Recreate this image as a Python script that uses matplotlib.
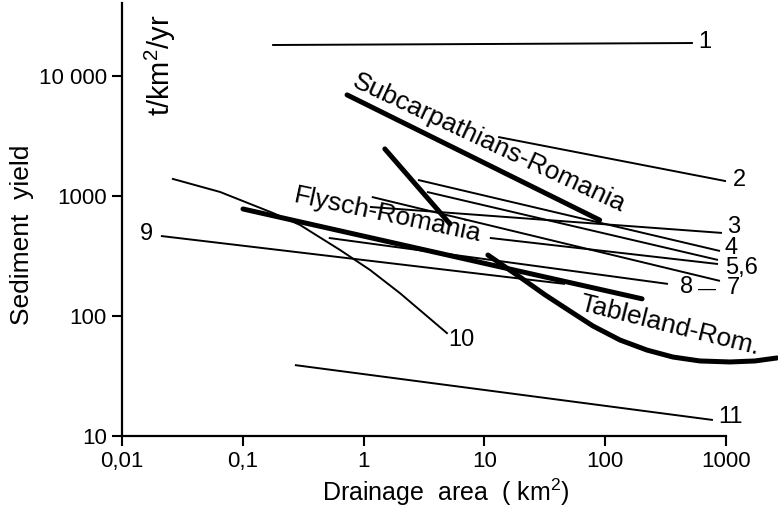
import numpy as np
import matplotlib
matplotlib.use("Agg")
import matplotlib.pyplot as plt

plt.rcParams['font.family'] = ['Liberation Sans', 'DejaVu Sans']
plt.rcParams['mathtext.default'] = 'regular'

# straight regression lines: (label, x start/end [km2], y start/end [t/km2/yr])
line_names = ['1', '2', '3', '4', '5', '6', '7', '8', '9', '11']
line_x = [[0.175, 533], [13, 1075], [1.13, 927], [2.82, 892], [3.35, 859],
          [11.1, 859], [1.17, 892], [0.515, 331], [0.021, 46.5], [0.27, 780]]
line_y = [[18100, 18800], [3100, 1310], [810, 492], [1360, 348], [1080, 293],
          [447, 271], [981, 196], [447, 185], [464, 185], [39, 13.6]]

# thick Romanian curves
subcarp_x = [0.73, 90]
subcarp_y = [6950, 630]
short_x = [1.50, 5.19]
short_y = [2465, 585]
flysch_x = [0.1004, 202]
flysch_y = [779, 139]
table_x = [10.7, 19.7, 31.8, 48.3, 79.3, 133, 222, 364, 609, 1080, 1738, 2640]
table_y = [322, 211, 150, 114, 82.5, 63, 52, 45.5, 42.2, 41.4, 42.2, 44.7]

# curve 10
c10_x = [0.0264, 0.0648, 0.178, 0.298, 0.638, 1.13, 2.0, 4.9]
c10_y = [1386, 1080, 721, 573, 355, 242, 155, 72]

xticks = [0.01, 0.1, 1, 10, 100, 1000]
xtick_labels = ['0,01', '0,1', '1', '10', '100', '1000']
yticks = [10, 100, 1000, 10000]
ytick_labels = ['10', '100', '1000', '10 000']

fig = plt.figure(figsize=(7.78, 5.12), dpi=100)
ax = fig.add_axes([0.1568, 0.1484, 0.7763, 0.8457])
ax.set_xscale('log')
ax.set_yscale('log')
ax.set_xlim(0.01, 1000)
ax.set_ylim(10, 40500)

thin = 1.4
thick = 3.6
for xs, ys in zip(line_x, line_y):
    ax.plot(xs, ys, color='black', lw=thin, solid_capstyle='butt')
ax.plot(c10_x, c10_y, color='black', lw=thin)
ax.plot(subcarp_x, subcarp_y, color='black', lw=thick, solid_capstyle='round')
ax.plot(short_x, short_y, color='black', lw=thick, solid_capstyle='round')
ax.plot(flysch_x, flysch_y, color='black', lw=thick, solid_capstyle='round')
ax.plot(table_x, table_y, color='black', lw=thick, solid_capstyle='round',
        clip_on=False)

fs = 19
nfs = 17
# number labels at line ends
offsets = {'1': (5, 1), '2': (3, 2), '3': (5, 6), '4': (5, 3), '7': (7, -7),
           '8': (12, -3), '11': (5, 3)}
for name, xs, ys in zip(line_names, line_x, line_y):
    if name in offsets:
        ax.annotate(name, (xs[1], ys[1]), xytext=offsets[name],
                    textcoords='offset pixels', ha='left', va='center',
                    fontsize=nfs, annotation_clip=False)
ax.annotate('5,6', (line_x[4][1], line_y[4][1]), xytext=(7, -8),
            textcoords='offset pixels', ha='left', va='center', fontsize=nfs,
            annotation_clip=False)
ax.annotate('—', (line_x[6][1], line_y[6][1]), xytext=(-22, -8),
            textcoords='offset pixels', ha='left', va='center', fontsize=13,
            annotation_clip=False)
ax.annotate('9', (line_x[8][0], line_y[8][0]), xytext=(-8, 2),
            textcoords='offset pixels', ha='right', va='center', fontsize=nfs)
ax.annotate('10', (c10_x[-1], c10_y[-1]), xytext=(1, -7),
            textcoords='offset pixels', ha='left', va='center', fontsize=nfs)

ax.text(10.9, 2765, 'Subcarpathians-Romania', rotation=-25, fontsize=fs,
        ha='center', va='center', rotation_mode='anchor')
ax.text(1.59, 690, 'Flysch-Romania', rotation=-12, fontsize=fs,
        ha='center', va='center', rotation_mode='anchor')
ax.text(345, 84, 'Tableland-Rom.', rotation=-14, fontsize=fs,
        ha='center', va='center', rotation_mode='anchor')

ax.set_xticks(xticks)
ax.set_xticklabels(xtick_labels)
ax.set_yticks(yticks)
ax.set_yticklabels(ytick_labels)
ax.minorticks_off()
ax.tick_params(direction='out', length=7, width=1.5, labelsize=16, pad=4)

for s in ['top', 'right']:
    ax.spines[s].set_visible(False)
for s in ['left', 'bottom']:
    ax.spines[s].set_linewidth(1.6)

ax.set_xlabel('Drainage  area  ( km$^2$)', fontsize=18)
ax.xaxis.set_label_coords(0.536, -0.093)
ax.set_ylabel('Sediment  yield', fontsize=fs)
ax.yaxis.set_label_coords(-0.145, 0.465)
ax.text(0.063, 0.857, 't/km$^2$/yr', transform=ax.transAxes, rotation=90,
        fontsize=21, ha='center', va='center')

fig.savefig('out.png', dpi=100)
